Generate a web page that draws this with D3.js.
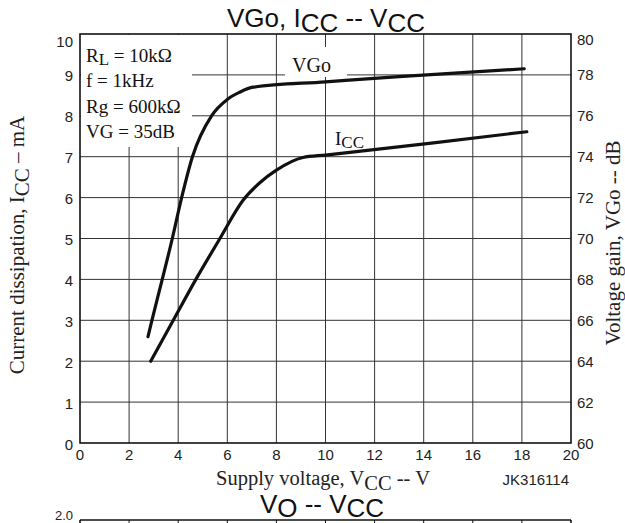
<!DOCTYPE html>
<html>
<head>
<meta charset="utf-8">
<script src="https://cdn.jsdelivr.net/npm/d3@7"></script>
<style>
  html, body { margin: 0; padding: 0; background: #fff; }
  svg { display: block; }
  .sans { font-family: "Liberation Sans", Arial, Helvetica, sans-serif; }
  .serif { font-family: "Liberation Serif", "Times New Roman", serif; }
</style>
</head>
<body>
<svg id="chart" width="625" height="523"></svg>
<script>
// ---- data ----
const xTicks = [0, 2, 4, 6, 8, 10, 12, 14, 16, 18, 20];
const leftTicks = [0, 1, 2, 3, 4, 5, 6, 7, 8, 9, 10];
const rightTicks = [60, 62, 64, 66, 68, 70, 72, 74, 76, 78, 80];
// Supply voltage (V) for the VGo curve and voltage gain (dB)
const vgoVcc = [2.77, 2.93, 3.35, 3.76, 4.14, 4.58, 5.36, 6.0, 6.5, 7.05, 10, 13, 18.1];
const vgoDb  = [65.2, 66.0, 68.0, 70.0, 72.0, 74.0, 76.0, 76.8, 77.15, 77.4, 77.66, 77.92, 78.3];
// Supply voltage (V) for the ICC curve and current (mA)
const iccVcc = [2.88, 3.8, 4.72, 5.7, 6.65, 7.3, 8.0, 9.08, 10, 14.4, 18.2];
const iccMa  = [2.0, 3.0, 4.0, 5.0, 5.94, 6.35, 6.67, 6.98, 7.04, 7.34, 7.61];
const conditions = ["f = 1kHz", "Rg = 600kΩ", "VG = 35dB"];

// ---- layout ----
const L = 80, R = 571, T = 34, B = 443;
const svg = d3.select("#chart");
const x = d3.scaleLinear().domain([0, 20]).range([L, R]);
const yL = d3.scaleLinear().domain([0, 10]).range([B, T]);
const yR = d3.scaleLinear().domain([60, 80]).range([B, T]);

// grid
const grid = svg.append("g").attr("stroke", "#333").attr("stroke-width", 1);
grid.selectAll("line.v").data(xTicks.slice(1, -1)).join("line")
  .attr("x1", d => x(d)).attr("x2", d => x(d)).attr("y1", T).attr("y2", B);
grid.selectAll("line.h").data(leftTicks.slice(1, -1)).join("line")
  .attr("x1", L).attr("x2", R).attr("y1", d => yL(d)).attr("y2", d => yL(d));

// white boxes behind labels
svg.append("rect").attr("x", L + 1).attr("y", T + 1).attr("width", 111).attr("height", 112).attr("fill", "#fff");
svg.append("rect").attr("x", 285).attr("y", 47).attr("width", 62).attr("height", 30).attr("fill", "#fff");

// curves
const line = d3.line().curve(d3.curveMonotoneX);
svg.append("path")
  .attr("d", line(vgoVcc.map((v, i) => [x(v), yR(vgoDb[i])])))
  .attr("fill", "none").attr("stroke", "#111").attr("stroke-width", 3.2).attr("stroke-linecap", "round");
svg.append("path")
  .attr("d", line(iccVcc.map((v, i) => [x(v), yL(iccMa[i])])))
  .attr("fill", "none").attr("stroke", "#111").attr("stroke-width", 3.2).attr("stroke-linecap", "round");

// frame
svg.append("rect").attr("x", L).attr("y", T).attr("width", R - L).attr("height", B - T)
  .attr("fill", "none").attr("stroke", "#111").attr("stroke-width", 1.6);

// tick labels
const tl = svg.append("g").attr("class", "sans").attr("font-size", 15).attr("fill", "#222");
tl.selectAll("text.l").data(leftTicks).join("text")
  .attr("x", 73).attr("y", d => Math.max(yL(d), T + 6) + 1)
  .attr("text-anchor", "end").attr("dominant-baseline", "central").text(d => d);
tl.selectAll("text.r").data(rightTicks).join("text")
  .attr("x", 577).attr("y", d => Math.max(yR(d), T + 5) + 0)
  .attr("text-anchor", "start").attr("dominant-baseline", "central").text(d => d);
tl.selectAll("text.x").data(xTicks).join("text")
  .attr("x", d => x(d)).attr("y", 454)
  .attr("text-anchor", "middle").attr("dominant-baseline", "central").text(d => d);

// title
const title = svg.append("text").attr("class", "sans").attr("font-size", 26).attr("fill", "#111")
  .attr("x", 326).attr("y", 27).attr("text-anchor", "middle");
title.append("tspan").text("VGo, I");
title.append("tspan").attr("dy", 5).text("CC");
title.append("tspan").attr("dy", -5).text(" -- V");
title.append("tspan").attr("dy", 5).text("CC");

// axis titles
const xt = svg.append("text").attr("class", "serif").attr("font-size", 20.5).attr("fill", "#222")
  .attr("x", 323).attr("y", 485).attr("text-anchor", "middle");
xt.append("tspan").text("Supply voltage, V");
xt.append("tspan").attr("dy", 5).text("CC");
xt.append("tspan").attr("dy", -5).text(" -- V");

const ylt = svg.append("text").attr("class", "serif").attr("font-size", 21).attr("fill", "#222")
  .attr("transform", "translate(24,245) rotate(-90)").attr("text-anchor", "middle");
ylt.append("tspan").text("Current dissipation, I");
ylt.append("tspan").attr("dy", 5).text("CC");
ylt.append("tspan").attr("dy", -5).text(" – mA");

svg.append("text").attr("class", "serif").attr("font-size", 21).attr("fill", "#222")
  .attr("transform", "translate(620,243) rotate(-90)").attr("text-anchor", "middle")
  .text("Voltage gain, VGo -- dB");

// conditions
const cond = svg.append("g").attr("class", "serif").attr("font-size", 19).attr("fill", "#111");
const rl = cond.append("text").attr("x", 86).attr("y", 62);
rl.append("tspan").text("R");
rl.append("tspan").attr("dy", 3).attr("font-size", 17).text("L");
rl.append("tspan").attr("dy", -3).text(" = 10kΩ");
cond.selectAll("text.c").data(conditions).join("text")
  .attr("x", 86).attr("y", (d, i) => 87 + i * 25.5).text(d => d);

// curve labels
svg.append("text").attr("class", "serif").attr("font-size", 20).attr("fill", "#111")
  .attr("x", 292).attr("y", 72).text("VGo");
const il = svg.append("text").attr("class", "serif").attr("font-size", 19).attr("fill", "#111")
  .attr("x", 335).attr("y", 145);
il.append("tspan").text("I");
il.append("tspan").attr("dy", 3).attr("font-size", 17).text("CC");

// code
svg.append("text").attr("class", "sans").attr("font-size", 15).attr("fill", "#222")
  .attr("x", 569).attr("y", 485).attr("text-anchor", "end").text("JK316114");

// next chart title (partially visible)
const t2 = svg.append("text").attr("class", "sans").attr("font-size", 26).attr("fill", "#111")
  .attr("x", 322).attr("y", 513).attr("text-anchor", "middle");
t2.append("tspan").text("V");
t2.append("tspan").attr("dy", 4).text("O");
t2.append("tspan").attr("dy", -4).text(" -- V");
t2.append("tspan").attr("dy", 4).text("CC");

// next chart top edge (partially visible)
const g2 = svg.append("g").attr("stroke", "#111");
g2.append("line").attr("x1", L).attr("x2", R).attr("y1", 520).attr("y2", 520).attr("stroke-width", 1.6);
g2.selectAll("line.v2").data(xTicks).join("line")
  .attr("x1", d => x(d)).attr("x2", d => x(d)).attr("y1", 520).attr("y2", 523)
  .attr("stroke-width", d => (d === 0 || d === 20) ? 1.6 : 1);
svg.append("text").attr("class", "sans").attr("font-size", 13).attr("fill", "#222")
  .attr("x", 73).attr("y", 515).attr("text-anchor", "end").attr("dominant-baseline", "central").text("2.0");
</script>
</body>
</html>
